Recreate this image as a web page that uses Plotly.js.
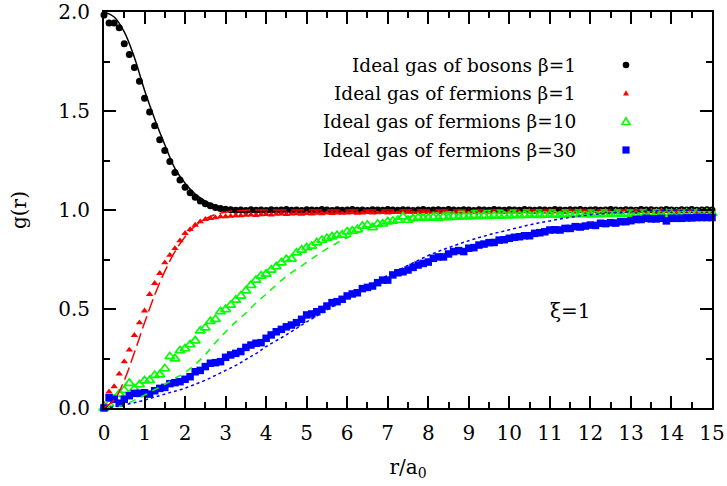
<!DOCTYPE html>
<html>
<head>
<meta charset="utf-8">
<script src="https://cdn.plot.ly/plotly-3.0.1.min.js"></script>
<style>html,body{margin:0;padding:0;background:#fff;}#chart{width:727px;height:486px;}</style>
</head>
<body>
<div id="chart"></div>
<script>
// sample positions of the simulation points (r/a0)
const xPts = [
 0,0.125,0.25,0.375,0.5,0.625,0.75,0.875,
 1,1.125,1.25,1.375,1.5,1.625,1.75,1.875,
 2,2.125,2.25,2.375,2.5,2.625,2.75,2.875,
 3,3.125,3.25,3.375,3.5,3.625,3.75,3.875,
 4,4.125,4.25,4.375,4.5,4.625,4.75,4.875,
 5,5.125,5.25,5.375,5.5,5.625,5.75,5.875,
 6,6.125,6.25,6.375,6.5,6.625,6.75,6.875,
 7,7.125,7.25,7.375,7.5,7.625,7.75,7.875,
 8,8.125,8.25,8.375,8.5,8.625,8.75,8.875,
 9,9.125,9.25,9.375,9.5,9.625,9.75,9.875,
 10,10.125,10.25,10.375,10.5,10.625,10.75,10.875,
 11,11.125,11.25,11.375,11.5,11.625,11.75,11.875,
 12,12.125,12.25,12.375,12.5,12.625,12.75,12.875,
 13,13.125,13.25,13.375,13.5,13.625,13.75,13.875,
 14,14.125,14.25,14.375,14.5,14.625,14.75,14.875,
 15];

const bosons1 = [
 1.985,1.945,1.945,1.92,1.84,1.785,1.72,1.65,
 1.565,1.495,1.425,1.355,1.30,1.245,1.19,1.152,
 1.115,1.087,1.064,1.045,1.032,1.022,1.013,1.008,
 1.004,1.001,0.999,1.000,0.998,1.001,0.999,1.000,
 0.998,1.001,0.999,1.000,1.002,0.999,1.000,0.998,
 1.001,1.000,0.999,1.002,1.000,0.998,1.001,0.999,
 1.000,1.002,0.999,1.000,0.998,1.001,1.000,0.999,
 1.002,1.000,0.999,1.001,1.000,0.998,1.000,1.002,
 0.999,1.000,1.001,0.999,1.002,1.000,0.999,1.001,
 1.000,0.998,1.001,1.000,0.999,1.002,1.000,0.999,
 1.001,1.000,0.999,1.002,1.000,0.999,1.001,1.000,
 0.999,1.002,1.000,0.999,1.001,1.000,1.002,0.999,
 1.000,1.001,0.999,1.000,1.002,1.000,0.999,1.001,
 1.000,0.999,1.002,1.000,1.001,0.999,1.000,1.002,
 1.000,0.999,1.001,1.000,1.002,0.999,1.000,1.001,
 1.000];

const fermions1 = [
 0.02,0.082,0.108,0.172,0.234,0.293,0.367,0.431,
 0.491,0.574,0.63,0.68,0.734,0.772,0.806,0.845,
 0.882,0.902,0.924,0.941,0.953,0.958,0.961,0.966,
 0.967,0.969,0.972,0.971,0.974,0.976,0.973,0.977,
 0.978,0.976,0.979,0.981,0.978,0.980,0.982,0.979,
 0.983,0.981,0.984,0.982,0.985,0.983,0.986,0.984,
 0.985,0.987,0.984,0.986,0.988,0.985,0.987,0.989,
 0.986,0.988,0.990,0.987,0.989,0.991,0.988,0.990,
 0.989,0.991,0.988,0.990,0.992,0.989,0.991,0.990,
 0.992,0.989,0.991,0.993,0.990,0.992,0.990,0.993,
 0.991,0.993,0.990,0.992,0.994,0.991,0.993,0.992,
 0.994,0.991,0.993,0.992,0.994,0.992,0.995,0.993,
 0.992,0.994,0.993,0.995,0.992,0.994,0.993,0.995,
 0.993,0.995,0.994,0.992,0.995,0.994,0.996,0.993,
 0.995,0.993,0.996,0.994,0.995,0.993,0.996,0.995,
 0.995];

const fermions10 = [
 0.0,0.02,0.045,0.071,0.09,0.125,0.097,0.118,
 0.138,0.14,0.165,0.168,0.199,0.26,0.249,0.29,
 0.30,0.32,0.34,0.39,0.405,0.438,0.448,0.487,
 0.498,0.52,0.545,0.566,0.592,0.62,0.646,0.667,
 0.677,0.697,0.714,0.734,0.751,0.753,0.784,0.798,
 0.81,0.818,0.835,0.848,0.857,0.865,0.872,0.874,
 0.89,0.894,0.902,0.919,0.924,0.912,0.929,0.93,
 0.941,0.944,0.949,0.966,0.949,0.957,0.962,0.958,
 0.96,0.963,0.958,0.965,0.962,0.967,0.964,0.968,
 0.966,0.970,0.967,0.971,0.968,0.972,0.970,0.973,
 0.971,0.974,0.972,0.975,0.973,0.976,0.974,0.977,
 0.975,0.977,0.974,0.978,0.976,0.979,0.977,0.978,
 0.976,0.979,0.977,0.980,0.978,0.981,0.979,0.980,
 0.978,0.981,0.979,0.982,0.980,0.982,0.980,0.983,
 0.981,0.983,0.980,0.984,0.982,0.983,0.981,0.984,
 0.983];

const fermions30 = [
 0.0,0.052,0.044,0.024,0.044,0.062,0.074,0.074,
 0.077,0.07,0.087,0.099,0.104,0.123,0.128,0.133,
 0.145,0.158,0.183,0.19,0.209,0.226,0.229,0.234,
 0.256,0.268,0.276,0.285,0.306,0.318,0.327,0.33,
 0.352,0.369,0.385,0.397,0.41,0.419,0.431,0.448,
 0.47,0.475,0.486,0.498,0.515,0.532,0.537,0.549,
 0.566,0.576,0.582,0.603,0.609,0.616,0.633,0.646,
 0.646,0.672,0.683,0.688,0.697,0.71,0.722,0.73,
 0.737,0.756,0.763,0.763,0.778,0.79,0.795,0.79,
 0.807,0.81,0.823,0.828,0.835,0.836,0.848,0.85,
 0.857,0.862,0.865,0.87,0.87,0.882,0.885,0.89,
 0.899,0.9,0.899,0.907,0.907,0.916,0.914,0.919,
 0.924,0.922,0.933,0.931,0.936,0.934,0.941,0.941,
 0.946,0.952,0.952,0.958,0.955,0.955,0.958,0.945,
 0.958,0.958,0.958,0.96,0.96,0.962,0.962,0.962,
 0.962];

// theoretical (ideal gas) curves
const xLine = [0,0.25,0.5,0.75,1,1.25,1.5,1.75,2,2.25,2.5,2.75,3,3.25,3.5,3.75,4,
 4.5,5,5.5,6,6.5,7,7.5,8,8.5,9,9.5,10,10.5,11,11.5,12,12.5,13,13.5,14,14.5,15];
const theoryBosons1 = [2.0,1.975,1.90,1.77,1.605,1.46,1.33,1.21,1.135,1.08,1.045,1.022,1.01,1.004,1.001,1.0,1.0,
 1,1,1,1,1,1,1,1,1,1,1,1,1,1,1,1,1,1,1,1,1,1];
const theoryFermions1 = [0,0.04,0.14,0.28,0.43,0.57,0.69,0.79,0.865,0.92,0.955,0.977,0.99,0.996,0.999,1.0,1.0,
 1,1,1,1,1,1,1,1,1,1,1,1,1,1,1,1,1,1,1,1,1,1];
const theoryFermions10 = [0,0.004,0.015,0.04,0.065,0.093,0.12,0.15,0.18,0.22,0.27,0.33,0.385,0.435,0.48,0.53,0.575,
 0.665,0.735,0.805,0.86,0.905,0.94,0.965,0.98,0.99,0.995,0.998,0.999,1,1,1,1,1,1,1,1,1,1];
const theoryFermions30 = [0,0.006,0.015,0.027,0.04,0.055,0.07,0.085,0.10,0.12,0.14,0.165,0.19,0.215,0.245,0.275,0.31,
 0.37,0.435,0.495,0.555,0.615,0.67,0.72,0.77,0.81,0.845,0.875,0.90,0.925,0.945,0.963,0.976,0.985,0.991,0.995,0.997,0.999,1.0];

const legendLabels = ['Ideal gas of bosons β=1','Ideal gas of fermions β=1','Ideal gas of fermions β=10','Ideal gas of fermions β=30'];

const FONT = '"DejaVu Serif", "Liberation Serif", serif';

const traces = [
 {x:xPts, y:bosons1, mode:'markers', type:'scatter', cliponaxis:false,
  marker:{symbol:'circle', size:7, color:'#000000'}},
 {x:xPts, y:fermions1, mode:'markers', type:'scatter', cliponaxis:false,
  marker:{symbol:'triangle-up', size:6.5, color:'#ff0000'}},
 {x:xPts, y:fermions10, mode:'markers', type:'scatter', cliponaxis:false,
  marker:{symbol:'triangle-up-open', size:8.5, color:'#00ff00', line:{width:1.7, color:'#00ff00'}}},
 {x:xPts, y:fermions30, mode:'markers', type:'scatter', cliponaxis:false,
  marker:{symbol:'square', size:7.5, color:'#0000ff'}},
 {x:xLine, y:theoryBosons1, mode:'lines', type:'scatter', line:{color:'#000000', width:1.5, shape:'spline'}},
 {x:xLine, y:theoryFermions1, mode:'lines', type:'scatter', line:{color:'#ff0000', width:1.5, dash:'13px,5px', shape:'spline'}},
 {x:xLine, y:theoryFermions10, mode:'lines', type:'scatter', line:{color:'#00ff00', width:1.5, dash:'7px,6px', shape:'spline'}},
 {x:xLine, y:theoryFermions30, mode:'lines', type:'scatter', line:{color:'#0000ff', width:1.5, dash:'3px,3px', shape:'spline'}}
];

// legend (text right-aligned, symbol on the right, gnuplot style)
const plotL = 104, plotW = 608, plotB = 408, plotH = 396;
const px2x = p => (p - plotL) / plotW;
const px2y = p => (plotB - p) / plotH;
const rowsPx = [65, 93.3, 121.7, 150];
const textRight = px2x(578), symX = px2x(626);

const annotations = legendLabels.map((t, i) => ({
 text: t, xref:'paper', yref:'paper', x:textRight, y:px2y(rowsPx[i]),
 xanchor:'right', yanchor:'middle', showarrow:false,
 font:{family:FONT, size:18.5, color:'#000'}
}));
annotations.push({text:'ξ=1', xref:'paper', yref:'paper', x:px2x(570), y:px2y(311),
 xanchor:'center', yanchor:'middle', showarrow:false, font:{family:FONT, size:20, color:'#000'}});

const pix = (i) => ({xref:'paper', yref:'paper', xsizemode:'pixel', ysizemode:'pixel',
 xanchor:symX, yanchor:px2y(rowsPx[i])});
const shapes = [
 Object.assign(pix(0), {type:'circle', x0:-3.3, x1:3.3, y0:-3.3, y1:3.3, fillcolor:'#000', line:{width:0}}),
 Object.assign(pix(1), {type:'path', path:'M -3,-2.2 L 3,-2.2 L 0,3 Z', fillcolor:'#ff0000', line:{width:0}}),
 Object.assign(pix(2), {type:'path', path:'M -4,-2.8 L 4,-2.8 L 0,3.8 Z', fillcolor:'rgba(0,0,0,0)', line:{width:1.6, color:'#00ff00'}}),
 Object.assign(pix(3), {type:'rect', x0:-3.6, x1:3.6, y0:-3.6, y1:3.6, fillcolor:'#0000ff', line:{width:0}})
];

const axisCommon = {
 showline:true, linewidth:2, linecolor:'#000', mirror:'allticks',
 ticks:'inside', ticklen:12, tickwidth:2, tickcolor:'#000',
 showgrid:false, zeroline:false,
 tickfont:{family:FONT, size:20, color:'#000'}
};

const layout = {
 width:727, height:486,
 margin:{l:104, r:15, t:12, b:78, pad:0},
 paper_bgcolor:'#fff', plot_bgcolor:'#fff',
 showlegend:false,
 font:{family:FONT, color:'#000'},
 xaxis: Object.assign({}, axisCommon, {
  range:[0,15], tick0:0, dtick:1, ticklabelstandoff:6,
  minor:{dtick:0.5, ticklen:6, tickwidth:2, tickcolor:'#000', ticks:'inside'},
  title:{text:'r/a<sub>0</sub>', font:{family:FONT, size:20, color:'#000'}, standoff:16}
 }),
 yaxis: Object.assign({}, axisCommon, {
  range:[0,2], tick0:0, dtick:0.5, tickformat:'.1f', ticklabelstandoff:8,
  minor:{dtick:0.25, ticklen:6, tickwidth:2, tickcolor:'#000', ticks:'inside'},
  title:{text:'g(r)', font:{family:FONT, size:20, color:'#000'}, standoff:26}
 }),
 annotations: annotations,
 shapes: shapes
};

Plotly.newPlot('chart', traces, layout, {staticPlot:true, displayModeBar:false});
</script>
</body>
</html>
